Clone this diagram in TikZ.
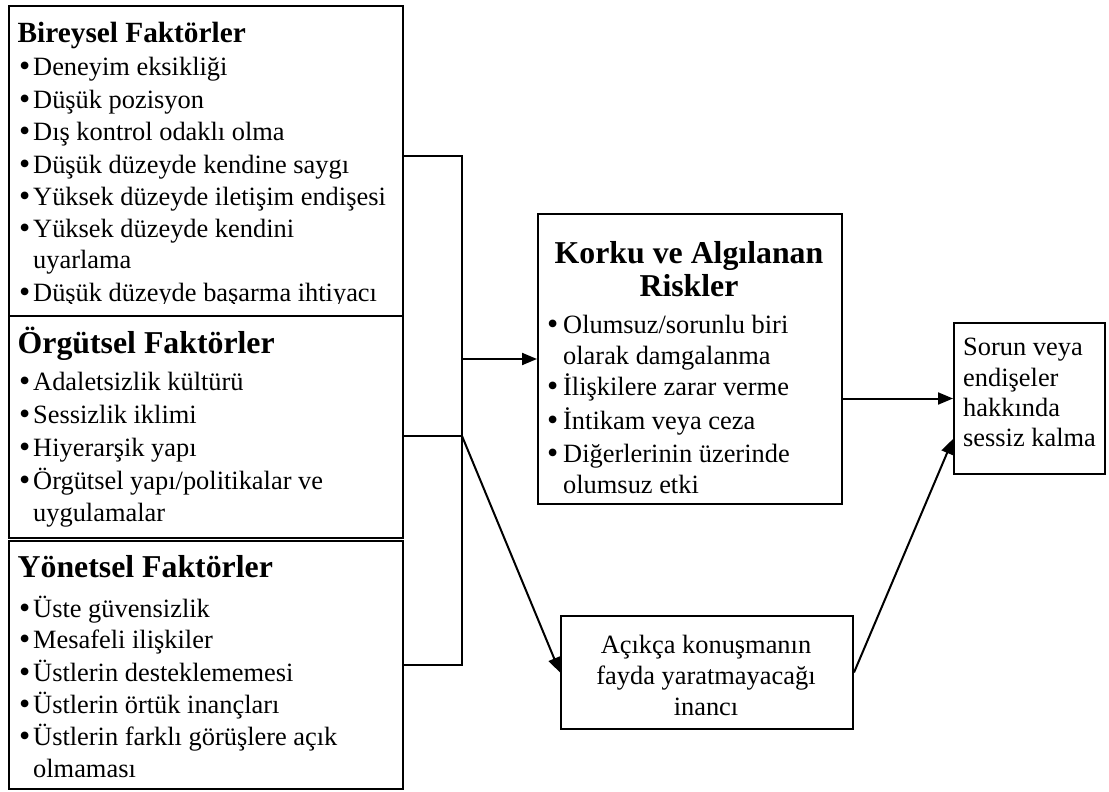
\documentclass[tikz,border=0pt]{standalone}
\usepackage{fontspec}
\setmainfont{Liberation Serif}
\usetikzlibrary{arrows.meta}
\newcommand\mybul{\makebox[14pt][l]{{\fontsize{32}{32}\selectfont\raisebox{-1pt}{\textbullet}}}}
\newcommand\kbul{\makebox[16pt][l]{{\fontsize{32}{32}\selectfont\raisebox{-1pt}{\textbullet}}}}
\begin{document}
\begin{tikzpicture}[x=1pt,y=-1pt,
  box/.style={draw, line width=2pt, inner sep=0pt, anchor=north west},
  tx/.style={anchor=base west, inner sep=0pt, font=\fontsize{26.4}{31}\selectfont},
  txc/.style={anchor=base, inner sep=0pt, font=\fontsize{26.4}{31}\selectfont},
  hd/.style={anchor=base west, inner sep=0pt, font=\fontsize{31.8}{36}\selectfont\bfseries},
  hdc/.style={anchor=base, inner sep=0pt, font=\fontsize{31.8}{36}\selectfont\bfseries},
  conn/.style={line width=2pt},
  arr/.style={line width=2pt, -{Triangle[length=15pt,width=12pt]}}]
\useasboundingbox (0,0) rectangle (1109,792);

% boxes
\node[box, minimum width=394pt, minimum height=310pt] (bir) at (8,5) {};
\node[box, minimum width=304pt, minimum height=290pt] (kor) at (537,213) {};
\node[box, minimum width=151pt, minimum height=151pt] (sor) at (953,322) {};
\node[box, minimum width=292pt, minimum height=113pt] (aci) at (560,615) {};

% Bireysel text (clipped at bottom as in the reference)
\begin{scope}
\clip (8,5) rectangle (402,303);
\node[hd, font=\fontsize{29.3}{34}\selectfont\bfseries] (b0) at (17.5,43) {Bireysel Faktörler};
\node[tx] (b1) at (19,76) {\mybul Deneyim eksikliği};
\node[tx] (b2) at (19,108.3) {\mybul Düşük pozisyon};
\node[tx] (b3) at (19,140.5) {\mybul Dış kontrol odaklı olma};
\node[tx] (b4) at (19,173) {\mybul Düşük düzeyde kendine saygı};
\node[tx] (b5) at (19,205) {\mybul Yüksek düzeyde iletişim endişesi};
\node[tx] (b6) at (19,237.3) {\mybul Yüksek düzeyde kendini};
\node[tx] (b6b) at (33,268.5) {uyarlama};
\node[tx] (b7) at (19,301.7) {\mybul Düşük düzeyde başarma ihtiyacı};
\end{scope}

\node[box, fill=white, minimum width=394pt, minimum height=222pt] (org) at (8,315) {};
\node[box, minimum width=394pt, minimum height=248pt] (yon) at (8,540) {};

% Örgütsel text
\node[hd] (o0) at (17.5,353) {Örgütsel Faktörler};
\node[tx] (o1) at (19,390) {\mybul Adaletsizlik kültürü};
\node[tx] (o2) at (19,423) {\mybul Sessizlik iklimi};
\node[tx] (o3) at (19,456) {\mybul Hiyerarşik yapı};
\node[tx] (o4) at (19,489) {\mybul Örgütsel yapı/politikalar ve};
\node[tx] (o4b) at (33,521) {uygulamalar};

% Yönetsel text
\node[hd] (y0) at (17.5,577) {Yönetsel Faktörler};
\node[tx] (y1) at (19,617) {\mybul Üste güvensizlik};
\node[tx] (y2) at (19,648.5) {\mybul Mesafeli ilişkiler};
\node[tx] (y3) at (19,681.5) {\mybul Üstlerin desteklememesi};
\node[tx] (y4) at (19,713) {\mybul Üstlerin örtük inançları};
\node[tx] (y5) at (19,745) {\mybul Üstlerin farklı görüşlere açık};
\node[tx] (y5b) at (33,777) {olmaması};

% Korku text
\node[hdc] (k0) at (689,263) {Korku ve Algılanan};
\node[hdc] (k0b) at (689,296) {Riskler};
\node[tx] (k1) at (547,333) {\kbul Olumsuz/sorunlu biri};
\node[tx] (k1b) at (563,364) {olarak damgalanma};
\node[tx] (k2) at (547,395) {\kbul İlişkilere zarar verme};
\node[tx] (k3) at (547,429) {\kbul İntikam veya ceza};
\node[tx] (k4) at (547,462.5) {\kbul Diğerlerinin üzerinde};
\node[tx] (k4b) at (563,493) {olumsuz etki};

% Sorun text
\node[tx] (s1) at (963,355) {Sorun veya};
\node[tx] (s2) at (963,386) {endişeler};
\node[tx] (s3) at (963,416.5) {hakkında};
\node[tx] (s4) at (963,446.5) {sessiz kalma};

% Açıkça text
\node[txc] (a1) at (706,653) {Açıkça konuşmanın};
\node[txc] (a2) at (706,684) {fayda yaratmayacağı};
\node[txc] (a3) at (706,715) {inancı};

% connectors
\coordinate (j1) at (462,156);
\coordinate (jm) at (462,359);
\coordinate (j2) at (462,436);
\coordinate (j3) at (462,665);
\draw[conn] (bir.east |- j1) -- (j1) -- (j3) -- (yon.east |- j3);
\draw[conn] (org.east |- j2) -- (j2);
\draw[arr] (jm) -- (kor.west |- jm);
\draw[arr] (j2) -- (aci.west);
\draw[arr] (kor.east |- sor.west) -- (sor.west);
\draw[arr] (aci.east) -- ([yshift=-40.5pt]sor.west);
\end{tikzpicture}
\end{document}
